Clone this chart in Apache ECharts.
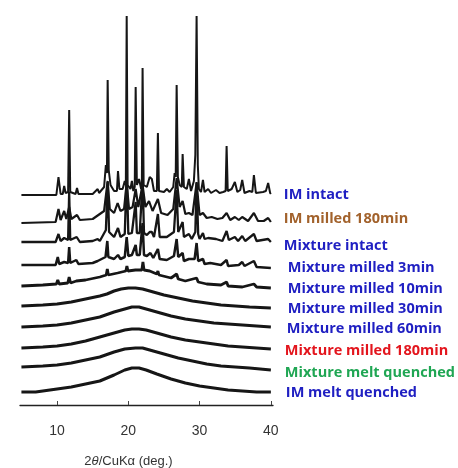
<!DOCTYPE html>
<html>
<head>
<meta charset="utf-8">
<script src="https://cdn.jsdelivr.net/npm/echarts@6/dist/echarts.min.js"></script>
<style>
  html, body { margin: 0; background: #fff; }
  #chart { width: 458px; height: 468px; }
</style>
</head>
<body>
<div id="chart"></div>
<script>
// 2θ ticks on the x axis
const xTicks = [10, 20, 30, 40];

// trace names, top to bottom
const names = [
  'IM intact',
  'IM milled 180min',
  'Mixture intact',
  'Mixture milled 3min',
  'Mixture milled 10min',
  'Mixture milled 30min',
  'Mixture milled 60min',
  'Mixture milled 180min',
  'Mixture melt quenched',
  'IM melt quenched'
];

// vertical offset of each trace (stacked plot)
const offsets = [210, 182, 163, 140, 119, 99, 78, 57, 38, 13];

// [2θ, intensity]
const imIntact = [
  [5, 0], [9.9, 0], [10.2, 18], [10.5, 1], [10.8, 1], [11.0, 9], [11.2, 2], [11.55, 3], [11.7, 85], [11.85, 3],
  [12.6, 1], [12.8, 7], [13.0, 1], [15.0, 1], [15.7, 6], [15.9, 2], [16.6, 8], [16.85, 30], [17.0, 22], [17.1, 115],
  [17.25, 25], [17.5, 10], [18.0, 4], [18.4, 4], [18.55, 24], [18.75, 6], [19.2, 6], [19.5, 14], [19.65, 10], [19.77, 179],
  [19.9, 10], [20.3, 6], [20.5, 14], [20.7, 4], [20.9, 8], [21.03, 108], [21.2, 10], [21.5, 16], [21.8, 6], [21.9, 12],
  [22.0, 127], [22.15, 10], [22.6, 8], [23.0, 18], [23.3, 16], [23.6, 4], [24.0, 4], [24.15, 62], [24.3, 4], [25.0, 3],
  [25.4, 6], [25.8, 3], [26.3, 8], [26.5, 22], [26.65, 18], [26.78, 110], [26.95, 18], [27.2, 10], [27.5, 8], [27.62, 41],
  [27.8, 8], [28.2, 6], [28.5, 16], [28.8, 4], [29.2, 14], [29.4, 40], [29.58, 179], [29.75, 30], [29.9, 6], [30.2, 3],
  [30.47, 15], [30.7, 3], [31.2, 6], [31.6, 2], [32.3, 5], [32.8, 2], [33.3, 3], [33.65, 4], [33.79, 49], [33.95, 4],
  [34.5, 6], [34.95, 13], [35.3, 3], [35.7, 5], [35.98, 15], [36.3, 2], [37.0, 4], [37.4, 3], [37.62, 20], [37.9, 2],
  [38.9, 3], [39.3, 4], [39.62, 12], [39.9, 2], [40, 1]
];

const imMilled = [
  [5, 0], [9.8, 1], [10.2, 14], [10.5, 3], [11.0, 12], [11.3, 4], [11.7, 16], [12.0, 4], [12.8, 8], [13.2, 3],
  [15.0, 4], [15.8, 8], [16.6, 12], [17.1, 42], [17.4, 14], [18.0, 10], [18.5, 20], [18.9, 12], [19.4, 14], [19.77, 40],
  [20.1, 14], [20.6, 16], [21.03, 34], [21.4, 16], [22.0, 38], [22.4, 16], [22.9, 22], [23.4, 12], [24.15, 24], [24.6, 10],
  [25.5, 8], [26.3, 14], [26.78, 45], [27.2, 16], [27.62, 22], [28.0, 9], [28.5, 10], [29.0, 8], [29.58, 40], [30.0, 8],
  [30.47, 10], [31.0, 5], [31.7, 6], [32.5, 4], [33.2, 5], [33.79, 10], [34.3, 3], [34.95, 6], [35.5, 3], [35.98, 6],
  [36.8, 2], [37.62, 10], [38.2, 2], [39.0, 2], [39.62, 5], [40, 1]
];

const mixIntact = [
  [5, 0], [9.8, 0], [10.2, 8], [10.5, 1], [11.0, 4], [11.55, 2], [11.7, 50], [11.85, 2], [12.75, 5], [13.2, 0],
  [15.0, 1], [15.7, 3], [16.0, 1], [16.85, 12], [17.1, 60], [17.3, 10], [18.0, 5], [18.55, 14], [18.9, 5], [19.5, 8],
  [19.77, 70], [20.0, 8], [20.5, 9], [21.03, 40], [21.2, 9], [21.6, 9], [22.0, 62], [22.2, 9], [22.6, 7], [23.0, 10],
  [23.3, 10], [23.6, 5], [24.15, 28], [24.4, 5], [25.4, 5], [26.4, 10], [26.78, 52], [27.0, 10], [27.62, 20], [27.8, 5],
  [28.5, 8], [28.9, 3], [29.4, 10], [29.58, 60], [29.8, 8], [30.0, 3], [30.47, 9], [30.7, 3], [31.2, 4], [32.3, 3],
  [33.2, 1], [33.79, 11], [34.1, 2], [34.95, 5], [35.4, 1], [35.98, 6], [36.4, 1], [37.62, 8], [38.0, 1], [39.62, 3], [40, 0]
];

const mix3 = [
  [5, 0], [9.8, 0], [10.1, 8], [10.3, 1], [11.0, 3], [11.55, 2], [11.7, 18], [11.85, 2], [12.7, 5], [13.0, 1],
  [15.0, 2], [15.7, 4], [16.8, 8], [17.05, 24], [17.2, 8], [18.0, 6], [18.55, 10], [18.9, 6], [19.5, 8], [19.77, 28],
  [20.0, 9], [20.5, 10], [21.03, 20], [21.2, 10], [21.6, 10], [22.0, 42], [22.2, 10], [22.6, 9], [23.1, 12], [23.5, 7],
  [24.15, 16], [24.4, 6], [25.4, 5], [26.4, 9], [26.78, 26], [27.0, 8], [27.62, 12], [27.8, 4], [28.5, 6], [29.3, 6],
  [29.58, 22], [29.8, 4], [30.47, 6], [30.7, 1], [31.5, 2], [33.0, 0], [33.79, 5], [34.0, -1], [35.5, 0], [35.98, 3],
  [36.3, -1], [37.62, 4], [38.0, -2], [40, -3]
];

const mix10 = [
  [5, 0], [8, 1], [9.9, 2], [10.1, 6], [10.3, 2], [11.5, 3], [11.7, 9], [11.9, 3], [12.7, 5], [14.0, 6],
  [16.0, 9], [16.9, 11], [17.05, 17], [17.2, 11], [18.5, 13], [19.65, 15], [19.8, 20], [19.95, 15], [21.0, 16], [21.9, 16],
  [22.05, 24], [22.2, 16], [23.0, 15], [24.0, 12], [24.15, 15], [24.3, 11], [26.0, 8], [26.78, 12], [27.0, 7], [28.0, 5],
  [29.58, 8], [29.8, 4], [31.0, 2], [33.0, 1], [33.79, 4], [34.0, 0], [36.0, -1], [37.62, 2], [38.0, -1], [40, -2]
];

const mix30 = [
  [5, 0], [8, 1], [10, 2], [12, 4], [14, 7], [16, 10], [17, 12], [18, 15], [19, 17], [20, 18],
  [21, 18], [22, 17], [23, 15], [25, 11], [27, 8], [29, 5], [31, 3], [33, 1], [35, 0], [37, -1], [40, -2]
];

const mix60 = [
  [5, 0], [8, 1], [10, 2], [12, 4], [14, 7], [16, 10], [18, 15], [19.5, 18], [20.5, 20], [21.5, 20],
  [22.5, 18], [24, 15], [26, 11], [28, 8], [30, 6], [32, 4], [34, 3], [36, 2], [38, 1], [40, 0]
];

const mix180 = [
  [5, 0], [8, 1], [10, 2], [12, 4], [14, 7], [16, 11], [18, 15], [19.5, 18], [20.5, 19], [21.5, 19],
  [22.5, 18], [24, 15], [26, 11], [28, 8], [30, 6], [32, 4], [34, 2], [36, 1], [38, 0], [40, -1]
];

const mixMelt = [
  [5, 0], [8, 1], [10, 2], [12, 4], [14, 7], [16, 10], [18, 15], [19.5, 18], [21, 19], [22, 19],
  [23, 17], [25, 13], [27, 9], [29, 6], [31, 3], [33, 1], [35, 0], [37, -1], [40, -3]
];

const imMelt = [
  [5, 0], [7, 0], [10, 3], [12, 5], [14, 8], [16, 11], [18, 17], [19.5, 22], [20.5, 24], [21.5, 24],
  [22.5, 22], [24, 18], [26, 13], [28, 9], [30, 6], [32, 4], [34, 2], [36, 1], [38, 0], [40, 0]
];

const traces = [imIntact, imMilled, mixIntact, mix3, mix10, mix30, mix60, mix180, mixMelt, imMelt];

// label colours and small nudges so the names sit like the figure
const labelColors = ['#1f1fc2', '#a2622c', '#1f1fc2', '#1f1fc2', '#1f1fc2', '#1f1fc2', '#1f1fc2', '#e3151d', '#1fa653', '#1f1fc2'];
const labelNudge = [[0, 1], [0, -3], [0, 4], [4, 0], [4, 1], [4, 1], [3, 2], [1, 2], [1, 3], [2, 1]];
const lineWidths = [2, 2.2, 2.3, 2.5, 2.8, 3, 3, 3, 3, 3];

const chart = echarts.init(document.getElementById('chart'), null, { renderer: 'canvas' });

const series = traces.map((trace, i) => ({
  name: names[i],
  type: 'line',
  data: trace.map(p => [p[0], p[1] + offsets[i]]),
  symbol: 'none',
  silent: true,
  lineStyle: { color: '#161616', width: lineWidths[i] },
  endLabel: {
    show: true,
    formatter: '{a}',
    distance: 13,
    offset: labelNudge[i],
    color: labelColors[i],
    fontFamily: 'Open Sans',
    fontWeight: 'bold',
    fontSize: 14.5
  }
}));

chart.setOption({
  animation: false,
  grid: { left: 20, right: 185, top: 16, bottom: 63, outerBoundsMode: 'none', containLabel: false },
  xAxis: {
    type: 'value',
    min: 4.8,
    max: 40.3,
    name: '2{i|θ}/CuKα (deg.)',
    nameLocation: 'middle',
    nameGap: 50,
    nameTextStyle: {
      color: '#333',
      fontFamily: 'Liberation Sans',
      fontSize: 13,
      padding: [0, 36, 0, 0],
      rich: { i: { fontStyle: 'italic', fontSize: 13, color: '#333', fontFamily: 'Liberation Sans' } }
    },
    axisLine: { lineStyle: { color: '#222', width: 1.3 } },
    axisTick: { customValues: xTicks, inside: true, length: 4, lineStyle: { color: '#444' } },
    axisLabel: { customValues: xTicks, color: '#333', fontFamily: 'Liberation Sans', fontSize: 14, margin: 19 },
    splitLine: { show: false }
  },
  yAxis: {
    type: 'value',
    min: 0,
    max: 389,
    show: false
  },
  series: series
});
</script>
</body>
</html>
